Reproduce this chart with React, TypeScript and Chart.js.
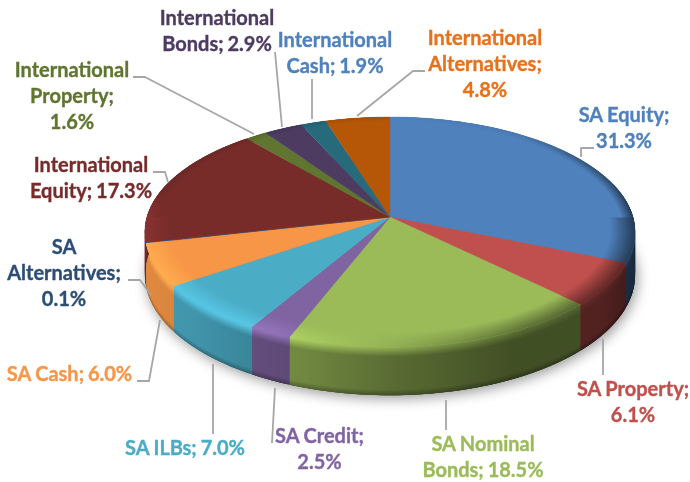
import React, { useEffect, useRef } from "react";
import { Chart, registerables } from "chart.js";

Chart.register(...registerables);

const categories = [
  "SA Equity", "SA Property", "SA Nominal Bonds", "SA Credit", "SA ILBs", "SA Cash",
  "SA Alternatives", "International Equity", "International Property",
  "International Bonds", "International Cash", "International Alternatives",
];
const shares = [31.3, 6.1, 18.5, 2.5, 7.0, 6.0, 0.1, 17.3, 1.6, 2.9, 1.9, 4.8];
const sliceColors = [
  "#4f81bd", "#c0504d", "#9bbb59", "#8064a2", "#4bacc6", "#f79646",
  "#2c4d75", "#772c2a", "#5f7530", "#4d3b62", "#276a7c", "#b65708",
];
const labelColors = [
  "#4f81bd", "#c0504d", "#9bbb59", "#8064a2", "#4bacc6", "#f79646",
  "#2c4d75", "#772c2a", "#5f7530", "#4d3b62", "#4f81bd", "#e8711a",
];
const labelLines = [
  ["SA Equity;", "31.3%"],
  ["SA Property;", "6.1%"],
  ["SA Nominal", "Bonds; 18.5%"],
  ["SA Credit;", "2.5%"],
  ["SA ILBs; 7.0%"],
  ["SA Cash; 6.0%"],
  ["SA", "Alternatives;", "0.1%"],
  ["International", "Equity; 17.3%"],
  ["International", "Property;", "1.6%"],
  ["International", "Bonds; 2.9%"],
  ["International", "Cash; 1.9%"],
  ["International", "Alternatives;", "4.8%"],
];

// Layout of the annotations (not data)
const labelX = [624, 633, 483, 319.5, 185, 69.5, 64, 91, 72, 217, 335, 485];
const labelY = [116, 390, 445, 437, 449, 375, 248, 166, 71, 19, 41, 39];
const labelStep = 26;
const leaders: number[][][] = [
  [[581, 157], [581, 148], [594, 148]],
  [[603, 339], [603, 375]],
  [[446, 400], [446, 430]],
  [[275, 388], [272, 443]],
  [[213, 364], [213, 434]],
  [[160, 320], [149, 381], [137, 381]],
  [[128, 280], [140, 280], [151, 295]],
  [[153, 172], [165, 172], [168, 182]],
  [[133, 77], [145, 77], [254, 134]],
  [[275, 52], [282, 127]],
  [[312, 79], [312, 119]],
  [[357, 116], [413, 71], [425, 71]],
];

// Perspective of the tilted disc
const CX = 390, CY = 217, RX = 243, RY = 113, K = 0.1304, DEPTH = 42;
const project = (a: number, r = 1, drop = 0) => {
  const u = r * Math.cos(a), v = r * Math.sin(a), w = 1 - K * v;
  return { x: CX + (RX * u) / w, y: CY + (RY * v) / w + (drop * DEPTH) / w };
};
const lerp = (a: number, b: number, t: number) => a + (b - a) * t;
const curve = (xs: number[], ys: number[], x: number) => {
  if (x <= xs[0]) return ys[0];
  for (let i = 1; i < xs.length; i++) {
    if (x <= xs[i]) return lerp(ys[i - 1], ys[i], (x - xs[i - 1]) / (xs[i] - xs[i - 1]));
  }
  return ys[ys.length - 1];
};
const tint = (hex: string, m: number) => {
  const n = parseInt(hex.slice(1), 16);
  const c = [(n >> 16) & 255, (n >> 8) & 255, n & 255].map((x) =>
    Math.min(255, Math.round(x * m))
  );
  return `rgb(${c[0]},${c[1]},${c[2]})`;
};
const sideShade = (u: number) =>
  curve([-1, -0.72, -0.47, -0.3, 0, 0.45, 0.8, 1], [0.92, 0.86, 0.76, 0.72, 0.58, 0.42, 0.42, 0.3], u);
const rimShade = (a: number) => {
  const u = Math.cos(a), v = Math.sin(a);
  const front = curve([-1, -0.45, 0, 0.5, 1], [1.14, 1.16, 0.95, 0.6, 0.45], u);
  if (v >= 0) return front;
  const back = u < 0 ? 0.9 : curve([0, 0.6, 1], [1, 0.92, 0.5], u);
  return lerp(front, back, Math.min(1, -v / 0.25));
};

const STEP = Math.PI / 360;
const slicePlugin = {
  id: "tiltedPie",
  beforeDatasetDraw(chart: any) {
    const ctx: CanvasRenderingContext2D = chart.ctx;
    const arcs = chart.getDatasetMeta(0).data;
    ctx.save();

    // Soft shadow under the disc
    ctx.save();
    ctx.shadowColor = "rgba(0,0,0,0.42)";
    ctx.shadowBlur = 13;
    ctx.shadowOffsetX = 2;
    ctx.shadowOffsetY = 3;
    ctx.fillStyle = "#888";
    ctx.beginPath();
    for (let a = 0; a < Math.PI * 2; a += STEP) {
      const p = project(a, 1, 1);
      ctx.lineTo(p.x, p.y);
    }
    ctx.closePath();
    ctx.fill();
    ctx.restore();

    // Side wall: each strip overlaps the next one so that no seams show
    arcs.forEach((arc: any) => {
      const color = arc.options.backgroundColor;
      const n = Math.max(1, Math.ceil((arc.endAngle - arc.startAngle) / STEP));
      for (let i = 0; i < n; i++) {
        const a0 = lerp(arc.startAngle, arc.endAngle, i / n);
        const a1 = Math.min(arc.endAngle, lerp(arc.startAngle, arc.endAngle, (i + 3) / n));
        const mid = lerp(arc.startAngle, arc.endAngle, (i + 0.5) / n);
        if (Math.sin(mid) < -0.3) continue;
        const p0 = project(a0), p1 = project(a1), q1 = project(a1, 1, 1), q0 = project(a0, 1, 1);
        const g = ctx.createLinearGradient(0, p0.y, 0, q0.y);
        const s = sideShade(Math.cos(mid));
        g.addColorStop(0, tint(color, rimShade(mid)));
        g.addColorStop(0.2, tint(color, s));
        g.addColorStop(0.88, tint(color, s));
        g.addColorStop(1, tint(color, s * 0.72));
        ctx.fillStyle = g;
        ctx.beginPath();
        ctx.moveTo(p0.x, p0.y);
        ctx.lineTo(p1.x, p1.y);
        ctx.lineTo(q1.x, q1.y);
        ctx.lineTo(q0.x, q0.y);
        ctx.closePath();
        ctx.fill();
      }
    });

    // Top faces
    arcs.forEach((arc: any) => {
      const color = arc.options.backgroundColor;
      const n = Math.max(1, Math.ceil((arc.endAngle - arc.startAngle) / STEP));
      ctx.fillStyle = color;
      ctx.strokeStyle = color;
      ctx.lineWidth = 0.4;
      ctx.beginPath();
      ctx.moveTo(CX, CY);
      for (let i = 0; i <= n; i++) {
        const p = project(lerp(arc.startAngle, arc.endAngle, i / n));
        ctx.lineTo(p.x, p.y);
      }
      ctx.closePath();
      ctx.fill();
      ctx.stroke();
    });

    // Rounded rim of the top faces
    arcs.forEach((arc: any) => {
      const color = arc.options.backgroundColor;
      const n = Math.max(1, Math.ceil((arc.endAngle - arc.startAngle) / STEP));
      for (let i = 0; i < n; i++) {
        const a0 = lerp(arc.startAngle, arc.endAngle, i / n);
        const a1 = Math.min(arc.endAngle, lerp(arc.startAngle, arc.endAngle, (i + 3) / n));
        const mid = lerp(arc.startAngle, arc.endAngle, (i + 0.5) / n);
        const inner = Math.sin(mid) > 0 ? 0.9 : 0.95;
        const pIn = project(mid, inner), pOut = project(mid, 1);
        const g = ctx.createLinearGradient(pIn.x, pIn.y, pOut.x, pOut.y);
        g.addColorStop(0, color);
        g.addColorStop(1, tint(color, rimShade(mid)));
        const a = project(a0, inner), b = project(a1, inner), c = project(a1, 1), d = project(a0, 1);
        ctx.fillStyle = g;
        ctx.beginPath();
        ctx.moveTo(a.x, a.y);
        ctx.lineTo(b.x, b.y);
        ctx.lineTo(c.x, c.y);
        ctx.lineTo(d.x, d.y);
        ctx.closePath();
        ctx.fill();
      }
    });

    ctx.restore();
    return false;
  },
  afterDatasetsDraw(chart: any) {
    const ctx: any = chart.ctx;
    ctx.save();
    ctx.strokeStyle = "#a6a6a6";
    ctx.lineWidth = 1.8;
    ctx.lineJoin = "round";
    leaders.forEach((pts) => {
      ctx.beginPath();
      pts.forEach(([x, y], i) => (i ? ctx.lineTo(x, y) : ctx.moveTo(x, y)));
      ctx.stroke();
    });
    ctx.font = 'bold 20px Lato, "Open Sans", sans-serif';
    ctx.wordSpacing = "-1px";
    ctx.textAlign = "center";
    ctx.textBaseline = "middle";
    ctx.lineWidth = 0.35;
    labelLines.forEach((lines, i) => {
      ctx.fillStyle = labelColors[i];
      ctx.strokeStyle = labelColors[i];
      lines.forEach((line, j) => {
        ctx.fillText(line, labelX[i], labelY[i] + j * labelStep);
        ctx.strokeText(line, labelX[i], labelY[i] + j * labelStep);
      });
    });
    ctx.restore();
  },
};

export default function App() {
  const ref = useRef<HTMLCanvasElement>(null);
  useEffect(() => {
    document.body.style.margin = "0";
    document.body.style.background = "#ffffff";
    const chart = new Chart(ref.current as HTMLCanvasElement, {
      type: "pie",
      data: {
        labels: categories,
        datasets: [{ data: shares, backgroundColor: sliceColors, borderWidth: 0 }],
      },
      options: {
        animation: false,
        responsive: false,
        events: [],
        plugins: { legend: { display: false }, tooltip: { enabled: false } },
      },
      plugins: [slicePlugin],
    } as any);
    return () => chart.destroy();
  }, []);
  return <canvas ref={ref} width={690} height={482} style={{ display: "block" }} />;
}
